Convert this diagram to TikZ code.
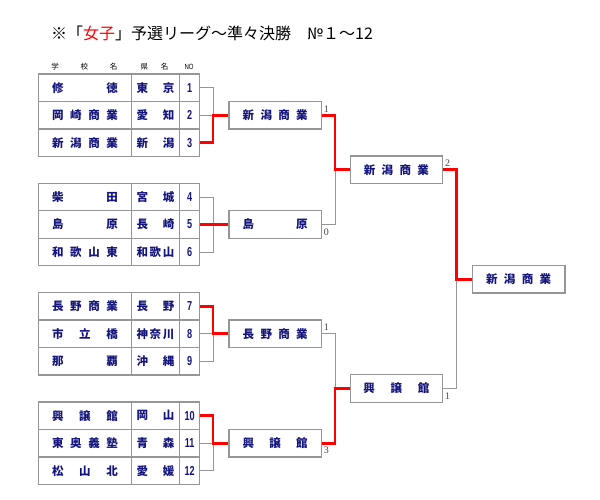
\documentclass[tikz,border=0pt]{standalone}
\usepackage{fontspec}
\setmainfont{Liberation Serif}
\newfontfamily\cjk{Noto Sans CJK JP}
\newfontfamily\numf{Liberation Sans}
\definecolor{navy}{RGB}{20,20,125}
\definecolor{boxgray}{RGB}{150,150,150}
\definecolor{wred}{RGB}{255,0,0}
\definecolor{scoregray}{RGB}{70,70,70}
\newcommand\sprd[2]{\makebox[#1][s]{#2}}
\newcommand\teamrow[4]{%
  \node[namecell] (n#1) at (38,#2) {\sprd{66pt}{#3}};
  \node[prefcell] (p#1) at (130.7,#2) {\sprd{38pt}{#4}};
  \node[numcell] (k#1) at (179,#2) {\scalebox{0.7}[1]{#1}};}
\begin{document}
\begin{tikzpicture}[x=1pt,y=-1pt,
  cellbase/.style={draw=boxgray, line width=1.3pt, minimum height=27.5pt, inner sep=0pt, anchor=west, text=navy},
  namecell/.style={cellbase, minimum width=92.7pt, font=\cjk\bfseries\fontsize{11.5}{12}\selectfont},
  prefcell/.style={cellbase, minimum width=48.3pt, font=\cjk\bfseries\fontsize{11.5}{12}\selectfont},
  numcell/.style={cellbase, minimum width=20pt, font=\numf\bfseries\fontsize{13}{13}\selectfont},
  winbox/.style={draw=boxgray, line width=1.3pt, minimum height=27.5pt, minimum width=92.5pt, inner sep=0pt, anchor=west, text=navy, font=\cjk\bfseries\fontsize{11.5}{12}\selectfont},
  lose/.style={draw=boxgray, line width=0.9pt},
  win/.style={draw=wred, line width=2.8pt},
  score/.style={font=\fontsize{10}{10}\selectfont, text=scoregray, inner sep=0pt, anchor=west},
  head/.style={font=\cjk\fontsize{7.5}{8}\selectfont, inner sep=0pt}]
\useasboundingbox (0,0) rectangle (600,500);
% title
\node[anchor=west, inner sep=0pt, font=\cjk\fontsize{16}{16}\selectfont] (title) at (51,33)
  {※「{\color{wred}女子}」予選リーグ～準々決勝　№１～12};
% header
\node[head] (h1) at (84.4,67) {\sprd{66pt}{学\hfil 校\hfil 名}};
\node[head] (h2) at (154.5,67) {\sprd{28pt}{県\hfil 名}};
\node[head, font=\numf\fontsize{7.5}{8}\selectfont] (h3) at (189,67) {\scalebox{0.8}[1]{NO}};
% teams
\teamrow{1}{87.75}{修\hfil 徳}{東\hfil 京}
\teamrow{2}{115.25}{岡\hfil 崎\hfil 商\hfil 業}{愛\hfil 知}
\teamrow{3}{142.75}{新\hfil 潟\hfil 商\hfil 業}{新\hfil 潟}
\teamrow{4}{197.05}{柴\hfil 田}{宮\hfil 城}
\teamrow{5}{224.55}{島\hfil 原}{長\hfil 崎}
\teamrow{6}{252.05}{和\hfil 歌\hfil 山\hfil 東}{和\hfil 歌\hfil 山}
\teamrow{7}{306.35}{長\hfil 野\hfil 商\hfil 業}{長\hfil 野}
\teamrow{8}{333.85}{市\hfil 立\hfil 橋}{神\hfil 奈\hfil 川}
\teamrow{9}{361.35}{那\hfil 覇}{沖\hfil 縄}
\teamrow{10}{415.65}{興\hfil 譲\hfil 館}{岡\hfil 山}
\teamrow{11}{443.15}{東\hfil 奥\hfil 義\hfil 塾}{青\hfil 森}
\teamrow{12}{470.65}{松\hfil 山\hfil 北}{愛\hfil 媛}
% round 1 winners
\node[winbox] (w1) at (228.3,115.25) {\sprd{65pt}{新\hfil 潟\hfil 商\hfil 業}};
\node[winbox] (w2) at (228.3,224.55) {\sprd{65pt}{島\hfil 原}};
\node[winbox] (w3) at (228.3,333.85) {\sprd{65pt}{長\hfil 野\hfil 商\hfil 業}};
\node[winbox] (w4) at (228.3,443.15) {\sprd{65pt}{興\hfil 譲\hfil 館}};
% semis
\node[winbox] (s1) at (349.5,169.9) {\sprd{65pt}{新\hfil 潟\hfil 商\hfil 業}};
\node[winbox] (s2) at (349.5,388.5) {\sprd{66pt}{興\hfil 譲\hfil 館}};
% final
\node[winbox] (f) at (471.7,279.2) {\sprd{65pt}{新\hfil 潟\hfil 商\hfil 業}};
% junctions
\coordinate (j1) at (213,115.25);
\coordinate (j2) at (213,224.55);
\coordinate (j3) at (213,333.85);
\coordinate (j4) at (213,443.15);
\coordinate (j5) at (335,169.9);
\coordinate (j6) at (335,388.5);
\coordinate (j7) at (456.7,279.2);
% losing lines
\draw[lose] (k1.east) -| (j1);
\draw[lose] (k2.east) -- (j1);
\draw[lose] (k4.east) -| (j2);
\draw[lose] (k6.east) -| (j2);
\draw[lose] (k8.east) -- (j3);
\draw[lose] (k9.east) -| (j3);
\draw[lose] (k11.east) -- (j4);
\draw[lose] (k12.east) -| (j4);
\draw[lose] (w2.east) -| (j5);
\draw[lose] (w3.east) -| (j6);
\draw[lose] (s2.east) -| (j7);
% winning lines
\draw[win] (k3.east) -| (j1) -- (w1.west);
\draw[win] (k5.east) -- (w2.west);
\draw[win] (k7.east) -| (j3) -- (w3.west);
\draw[win] (k10.east) -| (j4) -- (w4.west);
\draw[win] (w1.east) -| (j5) -- (s1.west);
\draw[win] (w4.east) -| (j6) -- (s2.west);
\draw[win] (s1.east) -| (j7) -- (f.west);
% scores
\node[score] (sc1) at ([xshift=1.5pt,yshift=6.5pt]w1.east) {1};
\node[score] (sc2) at ([xshift=1.5pt,yshift=-7.5pt]w2.east) {0};
\node[score] (sc3) at ([xshift=1.5pt,yshift=6.5pt]w3.east) {1};
\node[score] (sc4) at ([xshift=1.5pt,yshift=-7.5pt]w4.east) {3};
\node[score] (sc5) at ([xshift=1.5pt,yshift=6.5pt]s1.east) {2};
\node[score] (sc6) at ([xshift=1.5pt,yshift=-7.5pt]s2.east) {1};
\end{tikzpicture}
\end{document}
